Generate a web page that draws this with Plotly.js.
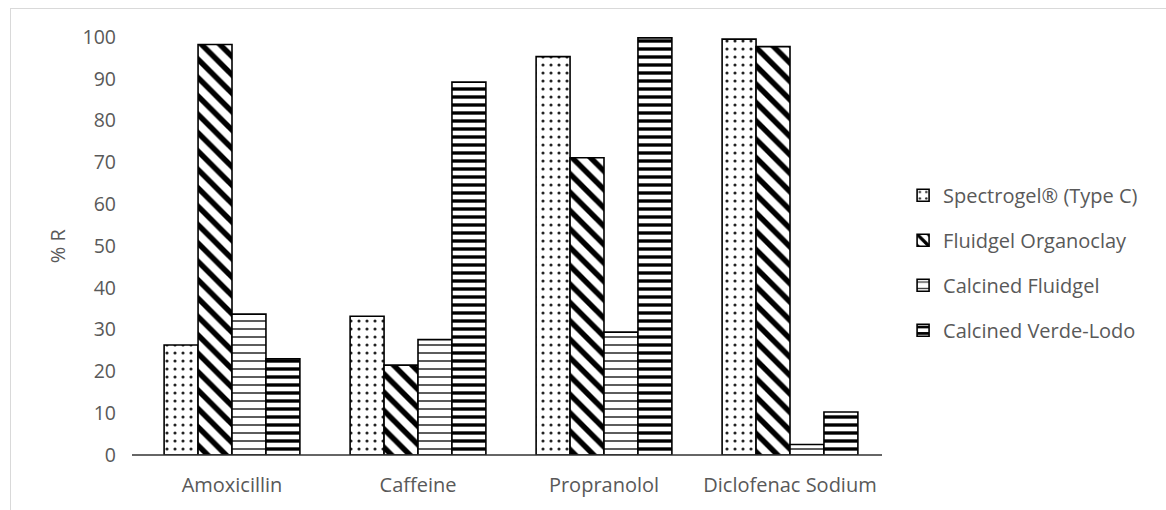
<!DOCTYPE html>
<html><head><meta charset="utf-8">
<script src="https://cdn.plot.ly/plotly-3.0.1.min.js"></script>
<style>html,body{margin:0;padding:0;background:#fff;overflow:hidden}
#chart{width:1166px;height:510px}
#frame{position:absolute;left:10px;top:8px;width:1200px;height:600px;border-left:1px solid #d9d9d9;border-top:1px solid #d9d9d9;pointer-events:none}
</style></head><body>
<div id="chart"></div><div id="frame"></div>
<script>
const categories = ["Amoxicillin", "Caffeine", "Propranolol", "Diclofenac Sodium"];
const seriesNames = ["Spectrogel® (Type C)", "Fluidgel Organoclay", "Calcined Fluidgel", "Calcined Verde-Lodo"];
const spectrogel = [26.3, 33.2, 95.3, 99.5];
const fluidgel = [98.2, 21.5, 71.1, 97.7];
const calcinedFluidgel = [33.7, 27.6, 29.4, 2.5];
const calcinedVerdeLodo = [23.0, 89.2, 99.8, 10.3];
const yTicks = [0,10,20,30,40,50,60,70,80,90,100];
const yTitle = "% R";

const values = [spectrogel, fluidgel, calcinedFluidgel, calcinedVerdeLodo];
const patterns = [
  {shape: ".", size: 8, solidity: 0.12, fgcolor: "#222222"},
  {shape: "\\", size: 13, solidity: 0.42, fgcolor: "#000000"},
  {shape: "-", size: 8, solidity: 0.2, fgcolor: "#333333"},
  {shape: "-", size: 8, solidity: 0.42, fgcolor: "#000000"}
];
const traces = values.map((v, i) => ({
  type: "bar",
  x: categories,
  y: v,
  name: seriesNames[i],
  legendgroup: "g" + i,
  marker: {
    color: "#ffffff",
    line: {color: "#000000", width: 1.6},
    pattern: Object.assign({bgcolor: "#ffffff", fillmode: "overlay", fgopacity: 1}, patterns[i])
  },
  hoverinfo: "x+y+name"
}));

const txt = "#595959";
const layout = {
  width: 1166, height: 510,
  margin: {l: 139, r: 283, t: 37, b: 55},
  paper_bgcolor: "#ffffff", plot_bgcolor: "#ffffff",
  font: {family: "Open Sans, sans-serif", size: 20, color: txt},
  barmode: "group",
  bargap: 0.27, bargroupgap: 0,
  showlegend: true,
  legend: {x: 1.027, xanchor: "left", y: 0.46, yanchor: "middle",
           font: {size: 20, color: txt}, tracegroupgap: 16, itemwidth: 30, traceorder: "grouped"},
  xaxis: {showline: false, ticks: "", showgrid: false, zeroline: false,
          tickfont: {size: 20, color: txt}, ticklabelstandoff: 16},
  yaxis: {range: [0, 100], tickvals: yTicks, ticktext: yTicks.map(String), showgrid: false, zeroline: false,
          showline: false, ticks: "", tickfont: {size: 19.5, color: txt}, ticklabelstandoff: 22},
  shapes: [{type: "line", xref: "paper", yref: "paper", x0: -0.0094, x1: 0.9987, y0: 0, y1: 0,
            line: {color: "#333333", width: 1.3}}],
  annotations: [{text: yTitle, xref: "paper", yref: "paper", x: -0.11, y: 0.5, textangle: -90,
                 showarrow: false, xanchor: "center", yanchor: "middle", font: {size: 20, color: txt}}]
};
Plotly.newPlot("chart", traces, layout, {displayModeBar: false, staticPlot: true});
</script></body></html>
